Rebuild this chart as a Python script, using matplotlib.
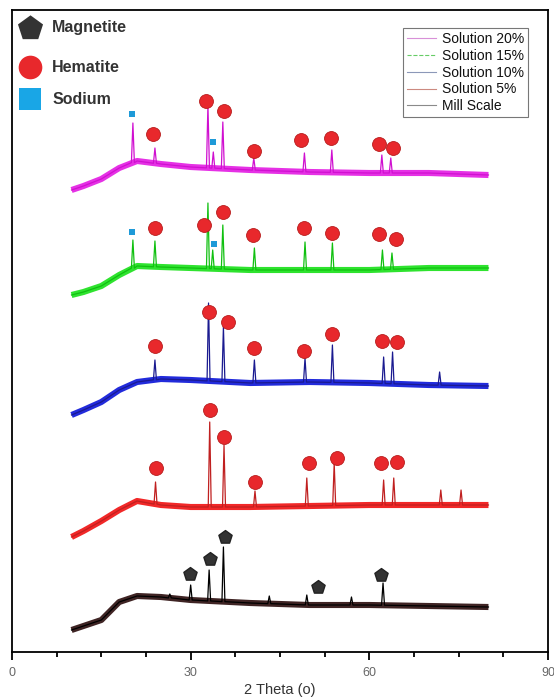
import numpy as np
import matplotlib.pyplot as plt
from matplotlib.lines import Line2D

plt.rcParams['font.family'] = ['Liberation Sans', 'DejaVu Sans']

# background knots (2 theta, deg)
knots = [10, 12, 15, 18, 21, 25, 30, 40, 50, 60, 70, 80]

# background level of each stacked pattern (a.u., stacking offset included)
mill_base = [22, 26, 32, 50, 56, 55, 52, 49, 47, 47, 46, 45]
sol5_base = [115, 121, 131, 142, 151, 147, 145, 145, 146, 147, 147, 147]
sol10_base = [237, 242, 250, 262, 270, 273, 272, 269, 270, 269, 267, 266]
sol15_base = [357, 360, 366, 377, 386, 385, 384, 382, 382, 382, 384, 384]
sol20_base = [462, 466, 473, 484, 491, 488, 485, 482, 480, 479, 479, 477]

# peaks: position and top
mill_pk_x = [26.5, 30.0, 33.1, 35.5, 43.2, 49.5, 57.0, 62.3]
mill_pk_y = [58, 67, 82, 105, 56, 57, 55, 69]
sol5_pk_x = [24.1, 33.2, 35.6, 40.8, 49.5, 54.1, 62.4, 64.1, 72.0, 75.4]
sol5_pk_y = [170, 230, 207, 161, 174, 189, 172, 174, 162, 162]
sol10_pk_x = [24.0, 33.0, 35.5, 40.7, 49.2, 53.8, 62.4, 63.9, 71.8]
sol10_pk_y = [292, 349, 325, 292, 294, 307, 295, 300, 280]
sol15_pk_x = [20.3, 24.0, 32.9, 33.7, 35.4, 40.7, 49.2, 53.8, 62.2, 63.8]
sol15_pk_y = [412, 411, 449, 402, 427, 404, 410, 409, 402, 399]
sol20_pk_x = [20.3, 24.0, 32.9, 33.8, 35.4, 40.6, 49.1, 53.7, 62.1, 63.6]
sol20_pk_y = [529, 504, 547, 500, 530, 494, 499, 502, 497, 494]

# phase labels
magnetite_x = [29.9, 33.2, 35.7, 51.3, 62.0]
magnetite_y = [78, 93, 115, 65, 77]
hematite_x = [24.15, 33.3, 35.6, 40.8, 49.8, 54.5, 62.0, 64.7,
              24.0, 33.1, 36.2, 40.6, 49.1, 53.7, 62.2, 64.7,
              24.0, 32.3, 35.4, 40.4, 49.1, 53.7, 61.7, 64.4,
              23.6, 32.6, 35.6, 40.7, 48.6, 53.6, 61.6, 64.0]
hematite_y = [184, 242, 215, 170, 189, 194, 189, 190,
              306, 340, 330, 304, 301, 318, 311, 310,
              424, 427, 440, 417, 424, 419, 418, 413,
              518, 551, 541, 501, 512, 514, 508, 504]
sodium_x = [20.2, 33.9, 20.2, 33.8]
sodium_y = [420, 408, 538, 510]

series = [
    ('Solution 20%', sol20_base, sol20_pk_x, sol20_pk_y, '#e31ae3', '#d010d0', '#d890d8', '-'),
    ('Solution 15%', sol15_base, sol15_pk_x, sol15_pk_y, '#18e018', '#10c010', '#66cc66', '--'),
    ('Solution 10%', sol10_base, sol10_pk_x, sol10_pk_y, '#0a14d8', '#1a1a90', '#8c98b8', '-'),
    ('Solution 5%', sol5_base, sol5_pk_x, sol5_pk_y, '#f01010', '#c02020', '#cc8a80', '-'),
    ('Mill Scale', mill_base, mill_pk_x, mill_pk_y, '#2a0c0c', '#000000', '#8a8a8a', '-'),
]


def make_trace(base, pk_x, pk_y, hw=0.25):
    """Background knots with sharp peaks inserted."""
    pts = [(k, b) for k, b in zip(knots, base)
           if all(abs(k - p) > hw for p in pk_x)]
    for p, top in zip(pk_x, pk_y):
        foot = np.interp(p, knots, base)
        pts += [(p - hw, foot), (p, top), (p + hw, foot)]
    pts.sort()
    return [q[0] for q in pts], [q[1] for q in pts]


fig = plt.figure(figsize=(5.54, 6.97), dpi=100)
ax = fig.add_axes([12 / 554, 45 / 697, 536 / 554, 642 / 697])

handles = []
for name, base, px, py, band_c, line_c, leg_c, ls in series:
    ax.plot(knots, base, color=band_c, lw=4.4, solid_capstyle='butt',
            solid_joinstyle='round', alpha=0.9, zorder=2)
    xs, ys = make_trace(base, px, py)
    ax.plot(xs, ys, color=line_c, lw=0.9, zorder=3)
    handles.append(Line2D([], [], color=leg_c, lw=0.8, ls=ls, label=name))

ax.scatter(hematite_x, hematite_y, s=100, marker='o', color='#e8282c',
           edgecolor='#b81c1c', lw=0.6, zorder=5)
ax.scatter(magnetite_x, magnetite_y, s=100, marker='p', color='#333333',
           edgecolor='#222222', zorder=5)
ax.scatter(sodium_x, sodium_y, s=20, marker='s', color='#1e9ad8', lw=0, zorder=5)

# phase key, top left
key = [('p', '#333333', 360, 'Magnetite', 0.972),
       ('o', '#e8282c', 290, 'Hematite', 0.911),
       ('s', '#19a6e6', 250, 'Sodium', 0.861)]
for m, c, s, txt, yy in key:
    ax.scatter([0.033], [yy], s=s, marker=m, color=c, lw=0,
               transform=ax.transAxes, clip_on=False, zorder=6)
    ax.text(0.075, yy, txt, transform=ax.transAxes, ha='left', va='center',
            fontsize=11.5, fontweight='bold', color='#333333')

leg = ax.legend(handles=handles, loc='upper right', bbox_to_anchor=(0.963, 0.972),
                fontsize=10, frameon=True, fancybox=False, handlelength=2.1,
                handletextpad=0.4, labelspacing=0.2, borderpad=0.3,
                borderaxespad=0)
leg.get_frame().set_edgecolor('#555555')
leg.get_frame().set_linewidth(0.8)
for t in leg.get_texts():
    t.set_color('#111111')

ax.set_xlim(0, 90)
ax.set_ylim(0, 642)
ax.set_xticks([0, 30, 60, 90])
ax.set_xticks(np.arange(0, 91, 7.5), minor=True)
ax.set_yticks([])
ax.tick_params(axis='x', which='major', length=6, width=1.3, labelsize=9,
               labelcolor='#666666', pad=5)
ax.tick_params(axis='x', which='minor', length=3.5, width=1.3)
for sp in ax.spines.values():
    sp.set_linewidth(1.3)
ax.set_xlabel('2 Theta (o)', fontsize=10.5, color='#333333', labelpad=3)

fig.savefig('out.png', dpi=100)
